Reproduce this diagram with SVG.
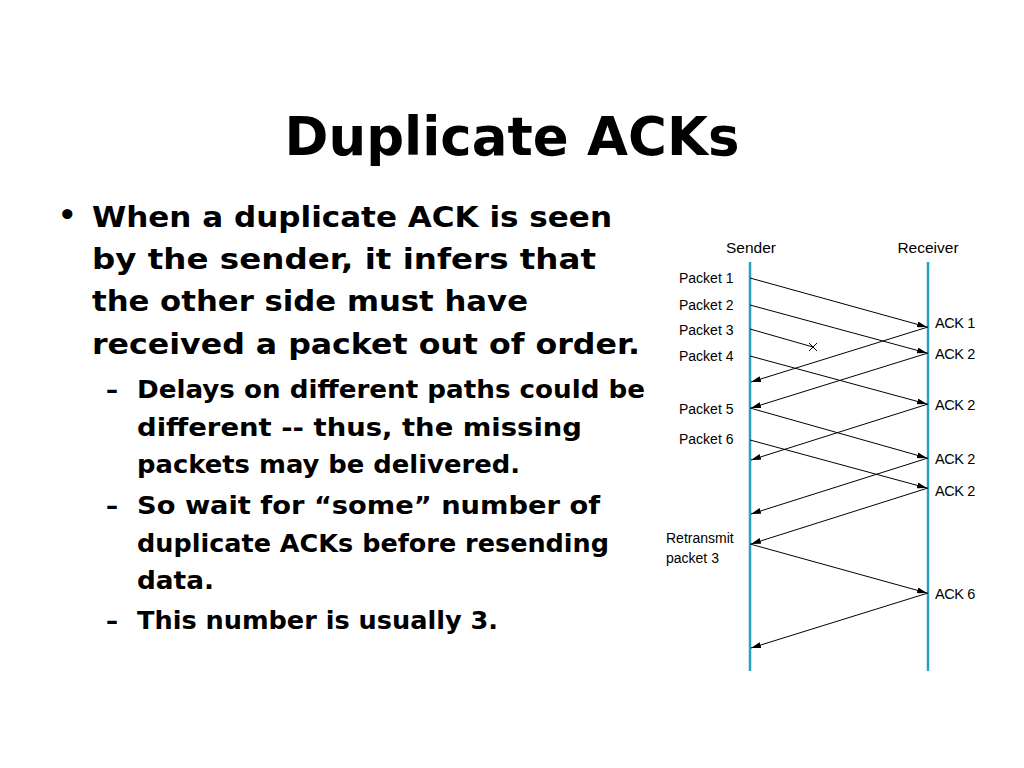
<svg xmlns="http://www.w3.org/2000/svg" width="1024" height="768" viewBox="0 0 1024 768">
<style>
.title{font-family:"DejaVu Sans",sans-serif;font-weight:bold;font-size:54px;fill:#000}
.b1{font-family:"DejaVu Sans",sans-serif;font-weight:bold;font-size:29px;fill:#000}
.b2{font-family:"DejaVu Sans",sans-serif;font-weight:bold;font-size:24px;fill:#000}
.lbl{font-family:"Liberation Sans",Arial,sans-serif;font-size:14px;fill:#000}
.hdr{font-family:"Liberation Sans",Arial,sans-serif;font-size:15.5px;fill:#000}
.ack{font-family:"Liberation Sans",Arial,sans-serif;font-size:14.5px;fill:#000;letter-spacing:-0.4px}
.life{stroke:#2a9fbf;stroke-width:2.5;fill:none}
.msg{stroke:#000;stroke-width:1;fill:none;marker-end:url(#ah)}
</style>
<defs>
<marker id="ah" viewBox="0 0 10 6" refX="10" refY="3" markerWidth="10" markerHeight="6" markerUnits="userSpaceOnUse" orient="auto">
<path d="M0,0 L10,3 L0,6 z" fill="#000"/>
</marker>
</defs>
<rect width="1024" height="768" fill="#fff"/>
<text class="title" x="512" y="155" text-anchor="middle" textLength="455" lengthAdjust="spacingAndGlyphs">Duplicate ACKs</text>
<g id="bullets">
<text class="b1" x="58" y="225" font-size="22">•</text>
<text class="b1" x="92" y="227" textLength="520" lengthAdjust="spacingAndGlyphs">When a duplicate ACK is seen</text>
<text class="b1" x="92" y="269" textLength="504" lengthAdjust="spacingAndGlyphs">by the sender, it infers that</text>
<text class="b1" x="92" y="311" textLength="436" lengthAdjust="spacingAndGlyphs">the other side must have</text>
<text class="b1" x="92" y="354" textLength="548" lengthAdjust="spacingAndGlyphs">received a packet out of order.</text>
<text class="b2" x="106" y="398">–</text>
<text class="b2" x="137" y="398" textLength="508" lengthAdjust="spacingAndGlyphs">Delays on different paths could be</text>
<text class="b2" x="137" y="436" textLength="445" lengthAdjust="spacingAndGlyphs">different -- thus, the missing</text>
<text class="b2" x="137" y="473" textLength="383" lengthAdjust="spacingAndGlyphs">packets may be delivered.</text>
<text class="b2" x="106" y="514">–</text>
<text class="b2" x="137" y="514" textLength="463" lengthAdjust="spacingAndGlyphs">So wait for “some” number of</text>
<text class="b2" x="137" y="552" textLength="472" lengthAdjust="spacingAndGlyphs">duplicate ACKs before resending</text>
<text class="b2" x="137" y="589" textLength="77" lengthAdjust="spacingAndGlyphs">data.</text>
<text class="b2" x="106" y="629">–</text>
<text class="b2" x="137" y="629" textLength="361" lengthAdjust="spacingAndGlyphs">This number is usually 3.</text>
</g>
<g id="sender">
<text class="hdr" x="751" y="253" text-anchor="middle">Sender</text>
<line class="life" x1="750" y1="262" x2="750" y2="671"/>
</g>
<g id="receiver">
<text class="hdr" x="928" y="253" text-anchor="middle">Receiver</text>
<line class="life" x1="928" y1="262" x2="928" y2="671"/>
</g>
<g id="labels">
<text class="lbl" x="679" y="283">Packet 1</text>
<text class="lbl" x="679" y="310">Packet 2</text>
<text class="lbl" x="679" y="335">Packet 3</text>
<text class="lbl" x="679" y="361">Packet 4</text>
<text class="lbl" x="679" y="414">Packet 5</text>
<text class="lbl" x="679" y="444">Packet 6</text>
<text class="lbl" x="666" y="543">Retransmit</text>
<text class="lbl" x="666" y="563">packet 3</text>
<text class="ack" x="935" y="328">ACK 1</text>
<text class="ack" x="935" y="359">ACK 2</text>
<text class="ack" x="935" y="410">ACK 2</text>
<text class="ack" x="935" y="464">ACK 2</text>
<text class="ack" x="935" y="496">ACK 2</text>
<text class="ack" x="935" y="599">ACK 6</text>
</g>
<g id="connectors">
<line class="msg" x1="750" y1="278" x2="927" y2="327"/>
<line class="msg" x1="750" y1="305" x2="927" y2="353"/>
<line x1="750" y1="329" x2="813" y2="347" stroke="#000" stroke-width="1"/>
<path d="M809,343 L817,351 M817,343 L809,351" stroke="#000" stroke-width="1"/>
<line class="msg" x1="750" y1="356" x2="927" y2="404"/>
<line class="msg" x1="928" y1="327" x2="751" y2="382"/>
<line class="msg" x1="928" y1="353" x2="751" y2="408"/>
<line class="msg" x1="750" y1="408" x2="927" y2="458"/>
<line class="msg" x1="928" y1="404" x2="751" y2="460"/>
<line class="msg" x1="750" y1="440" x2="927" y2="488"/>
<line class="msg" x1="928" y1="458" x2="751" y2="514"/>
<line class="msg" x1="928" y1="488" x2="751" y2="544"/>
<line class="msg" x1="750" y1="544" x2="927" y2="593"/>
<line class="msg" x1="928" y1="593" x2="751" y2="648"/>
</g>
</svg>
